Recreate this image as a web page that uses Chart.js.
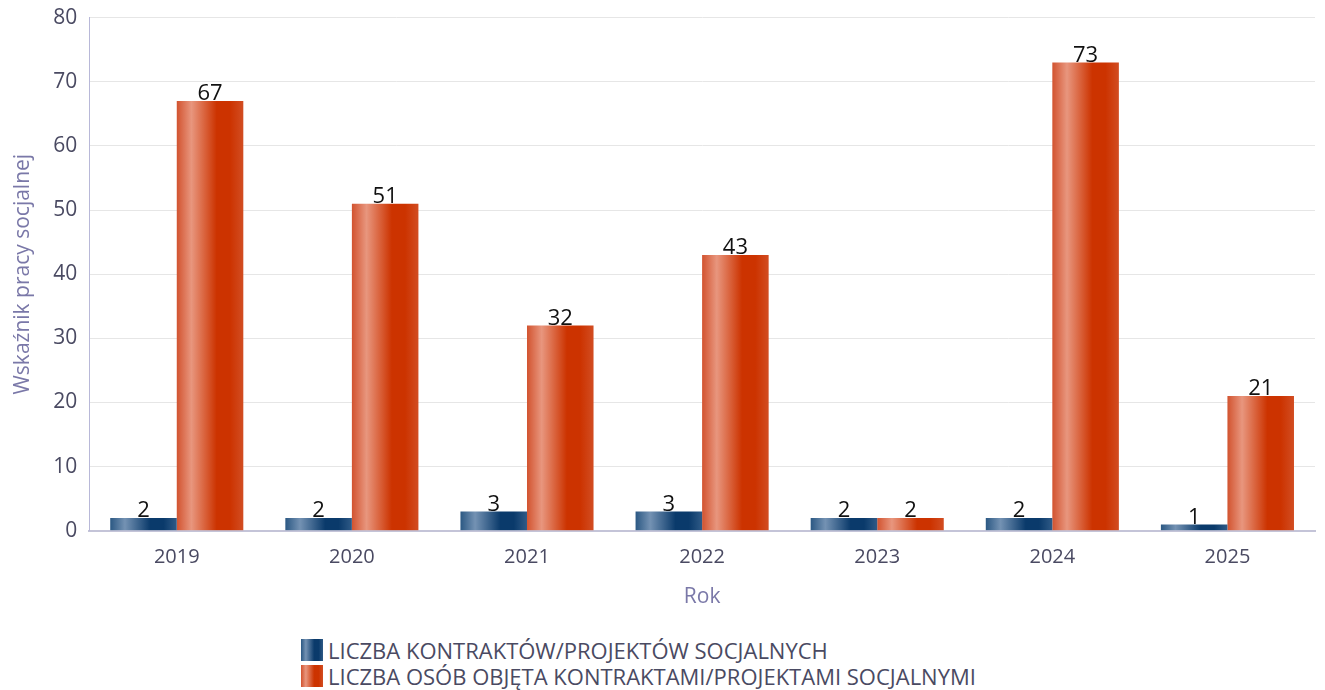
<!DOCTYPE html>
<html>
<head>
<meta charset="utf-8">
<script src="https://cdn.jsdelivr.net/npm/chart.js@4"></script>
<style>
  body { margin: 0; background: #fff; font-family: "Open Sans", sans-serif; }
  #wrap { position: relative; width: 1325px; height: 614px; overflow: hidden; }
  #chart { position: absolute; left: 0; top: -7px; }
  #legend { position: absolute; left: 301px; top: 637px; font-size: 22px; color: #4a4a62; line-height: 26px; }
  #legend div { display: flex; align-items: center; }
  #legend span.sw { display: inline-block; width: 22px; height: 22px; margin-right: 5px; }
</style>
</head>
<body>
<div id="wrap"><canvas id="chart" width="1325" height="621"></canvas></div>
<div id="legend"></div>
<script>
const lata = ['2019', '2020', '2021', '2022', '2023', '2024', '2025'];
const kontrakty = [2, 2, 3, 3, 2, 2, 1];
const osoby = [67, 51, 32, 43, 2, 73, 21];
const etykiety = ['LICZBA KONTRAKTÓW/PROJEKTÓW SOCJALNYCH', 'LICZBA OSÓB OBJĘTA KONTRAKTAMI/PROJEKTAMI SOCJALNYMI'];

// kolory gradientu (lewo -> prawo) dla każdej serii
const gradienty = [
  ['#2b5883', '#7492b3', '#0a3a6b', '#0a3a6b', '#2f5a86'],
  ['#d2532f', '#e8967e', '#cc3300', '#cc3300', '#d24d22']
];
const pozycje = [0, 0.22, 0.6, 0.8, 1];

function cssGradient(kolory) {
  return 'linear-gradient(to right, ' + kolory.map((c, i) => c + ' ' + (pozycje[i] * 100) + '%').join(', ') + ')';
}

// legenda w HTML
const legenda = document.getElementById('legend');
etykiety.forEach((t, i) => {
  const d = document.createElement('div');
  d.innerHTML = '<span class="sw" style="background:' + cssGradient(gradienty[i]) + '"></span>' + t;
  legenda.appendChild(d);
});

// gradient na każdym słupku (opcje nie są współdzielone, bo kolor jest funkcją)
const gradientPlugin = {
  id: 'gradientBars',
  beforeDatasetsDraw(chart) {
    const ctx = chart.ctx;
    chart.data.datasets.forEach((ds, di) => {
      chart.getDatasetMeta(di).data.forEach(bar => {
        const x0 = bar.x - bar.width / 2;
        const g = ctx.createLinearGradient(x0, 0, x0 + bar.width, 0);
        gradienty[di].forEach((c, i) => g.addColorStop(pozycje[i], c));
        bar.options.backgroundColor = g;
      });
    });
  }
};

// wartości nad słupkami
const wartosciPlugin = {
  id: 'wartosci',
  afterDatasetsDraw(chart) {
    const ctx = chart.ctx;
    ctx.save();
    ctx.font = '22px "Open Sans", sans-serif';
    ctx.fillStyle = '#111';
    ctx.textAlign = 'center';
    ctx.textBaseline = 'bottom';
    chart.data.datasets.forEach((ds, di) => {
      chart.getDatasetMeta(di).data.forEach((bar, i) => {
        ctx.fillText(ds.data[i], bar.x, bar.y + 4);
      });
    });
    ctx.restore();
  }
};

new Chart(document.getElementById('chart'), {
  type: 'bar',
  data: {
    labels: lata,
    datasets: [
      { label: etykiety[0], data: kontrakty, backgroundColor: () => '#0a3a6b' },
      { label: etykiety[1], data: osoby, backgroundColor: () => '#cc3300' }
    ]
  },
  options: {
    responsive: false,
    animation: false,
    devicePixelRatio: 1,
    categoryPercentage: 0.76,
    barPercentage: 1,
    layout: { padding: { top: 10, right: 10, left: 6, bottom: 0 } },
    plugins: { legend: { display: false }, tooltip: { enabled: false } },
    scales: {
      x: {
        grid: { display: false },
        border: { color: '#c4c4d8', width: 2 },
        ticks: { color: '#4a4a62', font: { family: 'Open Sans', size: 20 }, padding: 6 },
        title: { display: true, text: 'Rok', color: '#7a78a8', font: { family: 'Open Sans', size: 21 }, padding: { top: 10 } }
      },
      y: {
        min: 0, max: 80,
        ticks: { stepSize: 10, color: '#4a4a62', font: { family: 'Open Sans', size: 21 }, padding: 12 },
        grid: { color: '#e6e6e6', drawTicks: false },
        border: { color: '#b8b8d8', width: 1 },
        title: { display: true, text: 'Wskaźnik pracy socjalnej', color: '#7a78a8', font: { family: 'Open Sans', size: 21 }, padding: { bottom: 6 } }
      }
    }
  },
  plugins: [gradientPlugin, wartosciPlugin]
});
</script>
</body>
</html>
